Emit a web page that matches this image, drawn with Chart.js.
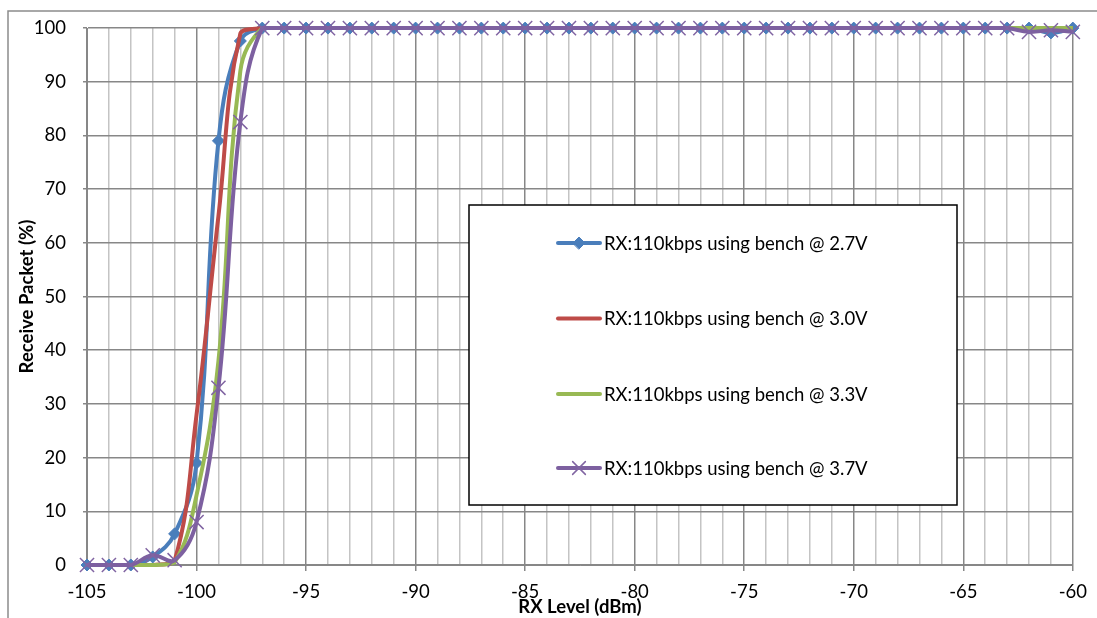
<!DOCTYPE html>
<html>
<head>
<meta charset="utf-8">
<script src="https://cdn.jsdelivr.net/npm/chart.js@4.4.0/dist/chart.umd.min.js"></script>
<style>
  html, body { margin: 0; padding: 0; background: #fff; }
  #wrap { position: relative; width: 1097px; height: 618px; }
</style>
</head>
<body>
<div id="wrap"><canvas id="chart" width="1097" height="618"></canvas></div>
<script>
// RX level (dBm) on the x axis
var rxLevel = [-105, -104, -103, -102, -101, -100, -99, -98, -97, -96,
               -95, -94, -93, -92, -91, -90, -89, -88, -87, -86,
               -85, -84, -83, -82, -81, -80, -79, -78, -77, -76,
               -75, -74, -73, -72, -71, -70, -69, -68, -67, -66,
               -65, -64, -63, -62, -61, -60];

// Receive packet (%) for each supply voltage
var bench27 = [0, 0, 0, 1.5, 5.8, 19, 79, 97.6, 100, 100,
               100, 100, 100, 100, 100, 100, 100, 100, 100, 100,
               100, 100, 100, 100, 100, 100, 100, 100, 100, 100,
               100, 100, 100, 100, 100, 100, 100, 100, 100, 100,
               100, 100, 100, 100, 99.1, 100];
var bench30 = [0, 0, 0, 0, 0.8, 28, 65, 99, 100, 100,
               100, 100, 100, 100, 100, 100, 100, 100, 100, 100,
               100, 100, 100, 100, 100, 100, 100, 100, 100, 100,
               100, 100, 100, 100, 100, 100, 100, 100, 100, 100,
               100, 100, 100, 100, 100, 100];
var bench33 = [0, 0, 0, 0, 0.5, 13, 38, 92, 100, 100,
               100, 100, 100, 100, 100, 100, 100, 100, 100, 100,
               100, 100, 100, 100, 100, 100, 100, 100, 100, 100,
               100, 100, 100, 100, 100, 100, 100, 100, 100, 100,
               100, 100, 100, 100, 100, 100];
var bench37 = [0, 0, 0, 1.8, 0.9, 8, 33, 82.5, 100, 100,
               100, 100, 100, 100, 100, 100, 100, 100, 100, 100,
               100, 100, 100, 100, 100, 100, 100, 100, 100, 100,
               100, 100, 100, 100, 100, 100, 100, 100, 100, 100,
               100, 100, 100, 99.3, 99.6, 99.3];

var seriesNames = ['RX:110kbps using bench @ 2.7V', 'RX:110kbps using bench @ 3.0V',
                   'RX:110kbps using bench @ 3.3V', 'RX:110kbps using bench @ 3.7V'];

function toPoints(values) {
    return rxLevel.map(function (x, i) { return { x: x, y: values[i] }; });
}

var FONT = 'Lato, "Open Sans", sans-serif';
var majorGrid = '#878787';
var minorGrid = '#c4c4c4';

// white page + the outer chart frame
var framePlugin = {
    id: 'frame',
    beforeDraw: function (chart) {
        var ctx = chart.ctx;
        ctx.save();
        ctx.fillStyle = '#fff';
        ctx.fillRect(0, 0, chart.width, chart.height);
        ctx.strokeStyle = '#8c8c8c';
        ctx.lineWidth = 1.5;
        ctx.beginPath();
        ctx.moveTo(8, chart.height);
        ctx.lineTo(8, 11);
        ctx.lineTo(chart.width, 11);
        ctx.stroke();
        ctx.restore();
    }
};

// boxed legend sitting inside the plot
var legendBoxPlugin = {
    id: 'legendBox',
    afterDraw: function (chart) {
        var ctx = chart.ctx;
        var box = { x: 469, y: 205, w: 488, h: 300 };
        var rows = [243, 318.5, 394, 468];
        ctx.save();
        ctx.fillStyle = '#fff';
        ctx.fillRect(box.x, box.y, box.w, box.h);
        ctx.strokeStyle = '#000';
        ctx.lineWidth = 1.5;
        ctx.strokeRect(box.x, box.y, box.w, box.h);
        chart.data.datasets.forEach(function (ds, i) {
            var y = rows[i];
            ctx.strokeStyle = ds.borderColor;
            ctx.lineWidth = 4;
            ctx.lineCap = 'round';
            ctx.beginPath();
            ctx.moveTo(558, y);
            ctx.lineTo(600, y);
            ctx.stroke();
            if (ds.pointRadius > 0) {
                ctx.fillStyle = ds.pointBackgroundColor;
                ctx.strokeStyle = ds.pointBorderColor;
                ctx.lineWidth = ds.pointBorderWidth;
                Chart.helpers.drawPoint(ctx, {
                    pointStyle: ds.pointStyle,
                    radius: ds.pointStyle === 'crossRot' ? 9 : ds.pointRadius,
                    borderWidth: ds.pointBorderWidth,
                    rotation: 0
                }, 579, y);
            }
            ctx.fillStyle = '#000';
            ctx.font = '18.5px ' + FONT;
            ctx.textBaseline = 'middle';
            ctx.textAlign = 'left';
            ctx.fillText(ds.label, 604, y + 1);
        });
        ctx.restore();
    }
};

var ctx = document.getElementById('chart').getContext('2d');
var chart = new Chart(ctx, {
    type: 'line',
    data: {
        datasets: [{
            label: seriesNames[0],
            data: toPoints(bench27),
            borderColor: '#4a7ebb',
            backgroundColor: '#4a7ebb',
            pointStyle: 'rectRot',
            pointRadius: 6,
            pointBackgroundColor: '#4a7ebb',
            pointBorderColor: '#4a7ebb',
            pointBorderWidth: 1,
            order: 4
        }, {
            label: seriesNames[1],
            data: toPoints(bench30),
            borderColor: '#be4b48',
            backgroundColor: '#be4b48',
            pointRadius: 0,
            order: 3
        }, {
            label: seriesNames[2],
            data: toPoints(bench33),
            borderColor: '#98b954',
            backgroundColor: '#98b954',
            pointRadius: 0,
            order: 2
        }, {
            label: seriesNames[3],
            data: toPoints(bench37),
            borderColor: '#7d60a0',
            backgroundColor: '#7d60a0',
            pointStyle: 'crossRot',
            pointRadius: 10,
            pointBackgroundColor: '#7d60a0',
            pointBorderColor: '#8064a2',
            pointBorderWidth: 1.5,
            order: 1
        }]
    },
    options: {
        responsive: false,
        animation: false,
        events: [],
        layout: { padding: { left: 0, top: 28, right: 22, bottom: 0 } },
        elements: {
            line: { borderWidth: 4, tension: 0.4, capBezierPoints: true },
            point: { hitRadius: 0 }
        },
        datasets: { line: { clip: false } },
        plugins: {
            legend: { display: false },
            tooltip: { enabled: false }
        },
        scales: {
            x: {
                type: 'linear',
                min: -105,
                max: -60,
                afterFit: function (scale) { scale.height = 53; },
                border: { color: majorGrid, width: 1 },
                grid: {
                    lineWidth: 1.5,
                    tickLength: 6,
                    color: function (c) { return c.tick.value % 5 === 0 ? majorGrid : minorGrid; },
                    tickColor: function (c) { return c.tick.value % 5 === 0 ? majorGrid : 'rgba(0,0,0,0)'; }
                },
                ticks: {
                    stepSize: 1,
                    autoSkip: false,
                    maxRotation: 0,
                    padding: 10,
                    color: '#000',
                    font: { family: FONT, size: 18.5 },
                    callback: function (v) { return v % 5 === 0 ? v : ''; }
                },
                title: {
                    display: true,
                    text: 'RX Level (dBm)',
                    color: '#000',
                    padding: 0,
                    font: { family: FONT, size: 18.5, weight: 'bold' }
                }
            },
            y: {
                min: 0,
                max: 100,
                afterFit: function (scale) { scale.width = 87; },
                border: { color: majorGrid, width: 1 },
                grid: {
                    lineWidth: 1.5,
                    tickLength: 4,
                    color: majorGrid
                },
                ticks: {
                    stepSize: 10,
                    padding: 17,
                    color: '#000',
                    font: { family: FONT, size: 18.5 }
                },
                title: {
                    display: true,
                    text: 'Receive Packet (%)',
                    color: '#000',
                    padding: { top: 16, bottom: 0 },
                    font: { family: FONT, size: 18.5, weight: 'bold' }
                }
            }
        }
    },
    plugins: [framePlugin, legendBoxPlugin]
});
</script>
</body>
</html>
